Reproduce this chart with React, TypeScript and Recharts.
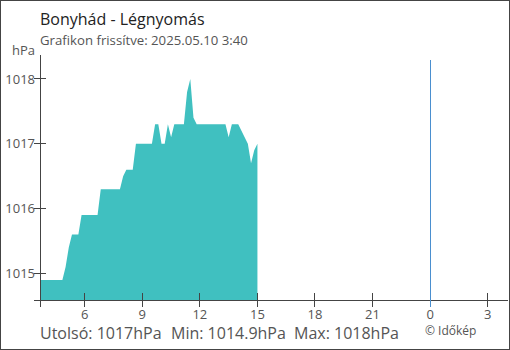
import React from 'react';
import { AreaChart, Area, XAxis, YAxis, ReferenceLine } from 'recharts';

// 10 perces mérések 03:40-től
const startMinute = 3 * 60 + 40;
const stepMinute = 10;
const pressure = [
  1014.9, 1014.9, 1014.9, 1014.9, 1014.9, 1014.9, 1014.9, 1014.9, 1015.1, 1015.4,
  1015.6, 1015.6, 1015.6, 1015.9, 1015.9, 1015.9, 1015.9, 1015.9, 1015.9, 1016.3,
  1016.3, 1016.3, 1016.3, 1016.3, 1016.3, 1016.3, 1016.5, 1016.6, 1016.6, 1016.6,
  1017.0, 1017.0, 1017.0, 1017.0, 1017.0, 1017.0, 1017.3, 1017.3, 1017.0, 1017.0,
  1017.3, 1017.1, 1017.3, 1017.3, 1017.3, 1017.3, 1017.8, 1018.0, 1017.4, 1017.3,
  1017.3, 1017.3, 1017.3, 1017.3, 1017.3, 1017.3, 1017.3, 1017.3, 1017.3, 1017.1,
  1017.3, 1017.3, 1017.3, 1017.2, 1017.1, 1017.0, 1016.7, 1016.9, 1017.0,
];
const xTicks = [3 + 40 / 60, 6, 9, 12, 15, 18, 21, 24, 27];
const yTicks = [1014.59, 1015, 1016, 1017, 1018];

const title = 'Bonyhád - Légnyomás';
const subtitle = 'Grafikon frissítve: 2025.05.10 3:40';
const unit = 'hPa';
const lastText = 'Utolsó: 1017hPa';
const minText = 'Min: 1014.9hPa';
const maxText = 'Max: 1018hPa';
const credit = '© Időkép';

const data = pressure.map((p, i) => ({ h: (startMinute + i * stepMinute) / 60, p }));

const AXIS = '#444';
const NOW = '#4a8fcf';
const FONT = '"Open Sans", sans-serif';

function XTick({ x, y, payload }: any) {
  const v = payload.value;
  const start = v < 4;
  return (
    <g>
      <line x1={x} x2={x} y1={start ? y : y - 7} y2={y + 7} stroke={v === 24 ? NOW : AXIS} shapeRendering="crispEdges" />
      {!start && (
        <text x={x} y={y + 19} textAnchor="middle" fill="#555" fontSize={13} fontFamily={FONT}>
          {v % 24}
        </text>
      )}
    </g>
  );
}

function YTick({ x, y, payload }: any) {
  const v = payload.value;
  return (
    <g>
      <line x1={x - 6} x2={x + 6} y1={y} y2={y} stroke={AXIS} shapeRendering="crispEdges" />
      {v >= 1015 && (
        <text x={x - 5} y={y} dy="0.35em" textAnchor="end" fill="#555" fontSize={13} fontFamily={FONT}>
          {v}
        </text>
      )}
    </g>
  );
}

export default function App() {
  return (
    <div
      style={{
        position: 'absolute',
        left: 0,
        top: 0,
        width: 510,
        height: 350,
        boxSizing: 'border-box',
        border: '1px solid #444',
        background: '#fff',
      }}
    >
      <div style={{ position: 'absolute', left: -1, top: -1 }}>
        <AreaChart width={510} height={350} data={data} margin={{ top: 55, right: 2, bottom: 20, left: 0 }}>
          <XAxis
            dataKey="h"
            type="number"
            domain={[3 + 40 / 60, 28.06]}
            allowDataOverflow
            ticks={xTicks}
            interval={0}
            height={30}
            tickSize={0}
            tickMargin={0}
            tickLine={false}
            axisLine={{ stroke: AXIS, shapeRendering: 'crispEdges' }}
            tick={<XTick />}
          />
          <YAxis
            type="number"
            domain={[1014.59, 1018.37]}
            allowDataOverflow
            ticks={yTicks}
            interval={0}
            width={40}
            tickSize={0}
            tickMargin={0}
            tickLine={false}
            axisLine={{ stroke: AXIS, shapeRendering: 'crispEdges' }}
            tick={<YTick />}
          />
          <Area
            type="linear"
            dataKey="p"
            stroke="none"
            fill="#40c0c0"
            fillOpacity={1}
            dot={false}
            activeDot={false}
            isAnimationActive={false}
          />
          <ReferenceLine
            segment={[
              { x: 24, y: 1018.29 },
              { x: 24, y: 1014.59 },
            ]}
            stroke={NOW}
            shapeRendering="crispEdges"
            ifOverflow="visible"
          />
        </AreaChart>
      </div>
      <svg width={510} height={350} style={{ position: 'absolute', left: -1, top: -1, pointerEvents: 'none' }}>
        <text x={40} y={25} fontSize={16} fill="#222" fontFamily={FONT}>
          {title}
        </text>
        <text x={40} y={45} fontSize={13.2} fill="#555" fontFamily={FONT}>
          {subtitle}
        </text>
        <text x={12} y={55} fontSize={13} fill="#555" fontFamily={FONT}>
          {unit}
        </text>
        <text y={339} fontSize={16} fill="#555" fontFamily={FONT}>
          <tspan x={40}>{lastText}</tspan>
          <tspan x={171}>{minText}</tspan>
          <tspan x={294}>{maxText}</tspan>
        </text>
        <text x={425} y={335} fontSize={12} fill="#555" fontFamily={FONT}>
          {credit}
        </text>
      </svg>
    </div>
  );
}
